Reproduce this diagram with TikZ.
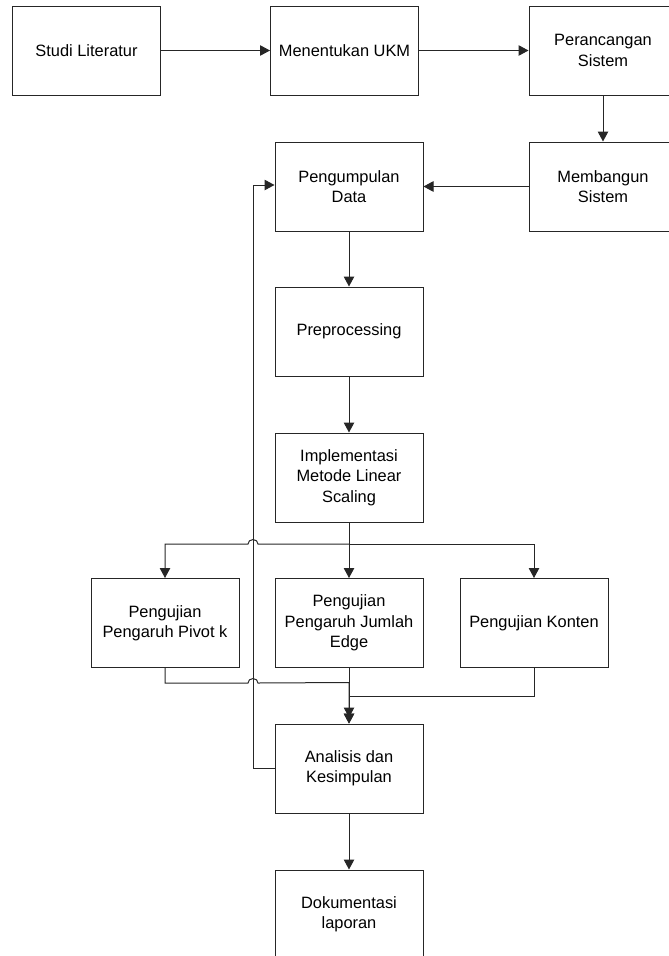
\documentclass[tikz,border=0pt]{standalone}
\usepackage{fontspec}
\setmainfont{Liberation Sans}
\usetikzlibrary{arrows.meta}
\begin{document}
\begin{tikzpicture}[x=1pt,y=-1pt,
  box/.style={draw=black!85,line width=1pt,minimum width=148pt,minimum height=89pt,
    inner sep=0pt,align=center,font=\fontsize{16.4}{20.3}\selectfont},
  link/.style={draw=black!85,line width=1pt},
  arr/.style={link,-{Triangle[length=10pt,width=10.5pt]}}]
\useasboundingbox (0,0) rectangle (669,956);
\node[box] (studi) at (86.5,50.5) {Studi Literatur};
\node[box] (ukm) at (344.5,50.5) {Menentukan UKM};
\node[box] (rancang) at (603,50.5) {Perancangan\\Sistem};
\node[box] (bangun) at (603,186.5) {Membangun\\Sistem};
\node[box] (kumpul) at (349,186.5) {Pengumpulan\\Data};
\node[box] (prep) at (349,331.5) {Preprocessing};
\node[box] (impl) at (349,477.5) {Implementasi\\Metode Linear\\Scaling};
\node[box] (pivot) at (165,623) {Pengujian\\Pengaruh Pivot k};
\node[box] (edge) at (349,623) {Pengujian\\Pengaruh Jumlah\\Edge};
\node[box] (konten) at (534,623) {Pengujian Konten};
\node[box] (anal) at (349,768.5) {Analisis dan\\Kesimpulan};
\node[box] (dok) at (349,914.5) {Dokumentasi\\laporan};
\coordinate (split) at (349,544);
\coordinate (jp) at (349,682.5);
\coordinate (jk) at (349,696);
\coordinate (fb) at (253,768.5);
\draw[arr] (studi) -- (ukm);
\draw[arr] (ukm) -- (rancang);
\draw[arr] (rancang) -- (bangun);
\draw[arr] (bangun) -- (kumpul);
\draw[arr] (kumpul) -- (prep);
\draw[arr] (prep) -- (impl);
\draw[link] (impl.south) -- (split);
\draw[arr] (split) -- (edge.north);
\draw[arr] (split) -| (konten.north);
\draw[arr] (split) -- ++(-91,0) arc[start angle=0,end angle=-180,x radius=5,y radius=4.5]
  -- (split -| pivot) -- (pivot.north);
\draw[arr,shorten >=6pt] (pivot.south) |- ++(83,15) arc[start angle=180,end angle=360,x radius=5,y radius=4.5]
  -- (jp) -- (anal.north);
\draw[arr] (edge) -- (anal);
\draw[arr] (konten.south) |- (jk) -- (anal.north);
\draw[arr] (anal.west) -- (fb) |- ([yshift=1.5pt]kumpul.west);
\draw[arr] (anal) -- (dok);
\end{tikzpicture}
\end{document}
